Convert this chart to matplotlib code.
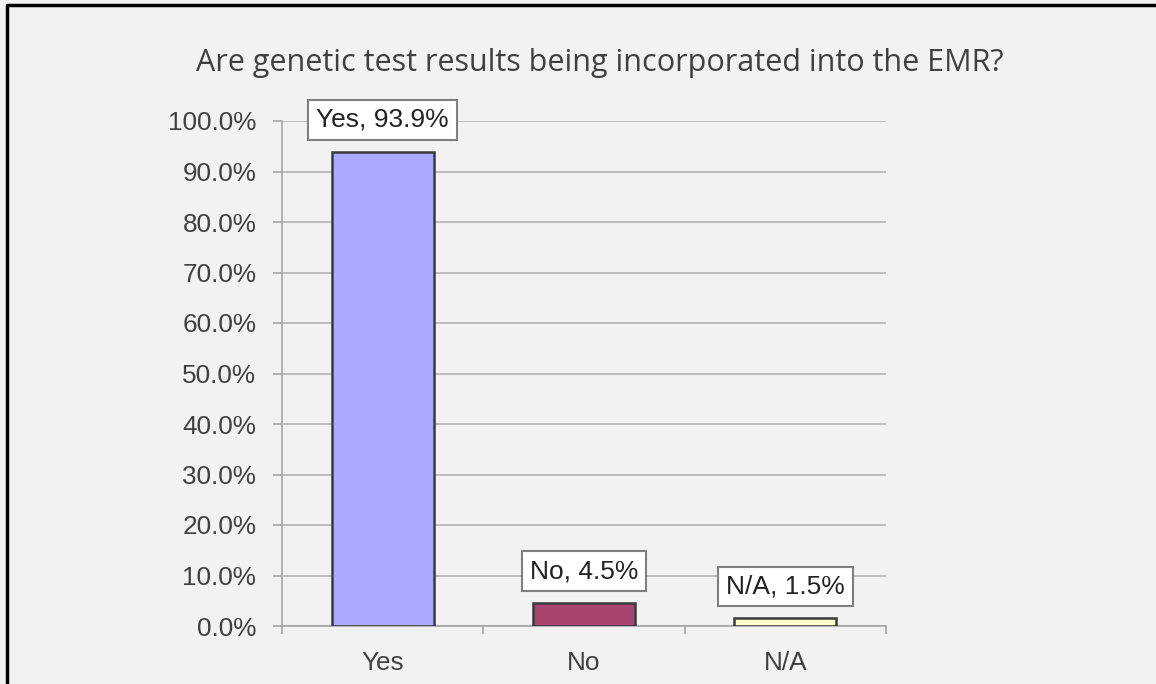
import matplotlib.pyplot as plt
from matplotlib.lines import Line2D

categories = ['Yes', 'No', 'N/A']
values = [93.9, 4.5, 1.5]
bar_colors = ['#aaaaff', '#a8456f', '#ffffcc']
yticks = [0, 10, 20, 30, 40, 50, 60, 70, 80, 90, 100]
title = 'Are genetic test results being incorporated into the EMR?'

W, H = 1156, 684
fig = plt.figure(figsize=(W / 100, H / 100), dpi=100, facecolor='#f2f2f2')

# outer frame (top and left edges only visible)
fig.add_artist(Line2D([7 / W, 7 / W, 1.01], [-0.01, 1 - 5 / H, 1 - 5 / H],
                      transform=fig.transFigure, color='black', lw=2.5))

ax = fig.add_axes([282 / W, 58 / H, 604 / W, 505 / H])
ax.set_facecolor('#f2f2f2')

x = range(len(categories))
ax.bar(x, values, width=0.507, color=bar_colors, edgecolor='#3a3a3a', linewidth=1.8, zorder=3)

ax.set_xlim(-0.5, 2.5)
ax.set_ylim(0, 100)
ax.set_yticks(yticks)
ax.set_yticklabels([f'{v:.1f}%' for v in yticks], fontsize=18.8, color='#404040',
                   family='Liberation Sans')
ax.set_xticks(list(x))
ax.set_xticklabels(categories, fontsize=18.8, color='#404040', family='Liberation Sans')
ax.tick_params(axis='x', length=0, pad=18)
ax.set_xticks([-0.5, 0.5, 1.5, 2.5], minor=True)
ax.tick_params(axis='x', which='minor', length=6, color='#a6a6a6', width=1.2)
ax.tick_params(axis='y', length=6.5, color='#a6a6a6', width=1.2, pad=12)

ax.grid(axis='y', color='#b3b3b3', lw=1.2, zorder=0)
for s in ['top', 'right']:
    ax.spines[s].set_visible(False)
for s in ['left', 'bottom']:
    ax.spines[s].set_color('#a6a6a6')
    ax.spines[s].set_linewidth(1.2)

for i, (c, v) in enumerate(zip(categories, values)):
    ax.annotate(f'{c}, {v}%', (i, v), xytext=(0, 23), textcoords='offset points',
                ha='center', va='center', fontsize=19, color='#222222',
                family='Liberation Sans', zorder=5,
                bbox=dict(boxstyle='square,pad=0.3', fc='white', ec='#7f7f7f', lw=1.5))

fig.text(600 / W, 1 - 63 / H, title, ha='center', va='center', fontsize=22,
         color='#404040', family='Open Sans')

fig.savefig('out.png', dpi=100, facecolor=fig.get_facecolor())
